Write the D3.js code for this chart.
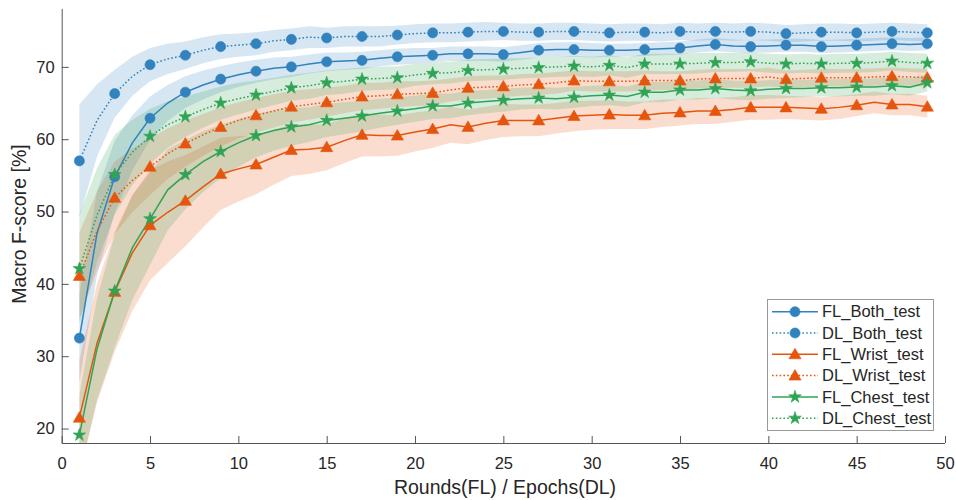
<!DOCTYPE html>
<html>
<head>
<meta charset="utf-8">
<script src="https://cdn.jsdelivr.net/npm/d3@7"></script>
<style>
  html, body { margin: 0; padding: 0; background: #fff; }
  svg { display: block; font-family: "Liberation Sans", Arial, Helvetica, sans-serif; }
</style>
</head>
<body>
<svg id="chart" width="956" height="500"></svg>
<script>
// Rounds / epochs 1..49
const rounds = d3.range(1, 50);

// Mean macro F-score per round (%)
const flBoth = [32.5,47.0,54.8,59.5,62.9,65.0,66.5,67.5,68.3,68.9,69.4,69.8,70.0,70.4,70.7,70.8,70.9,71.2,71.4,71.5,71.6,71.8,71.8,71.8,71.7,72.0,72.3,72.4,72.4,72.3,72.3,72.3,72.4,72.5,72.6,72.9,73.1,72.9,72.8,72.9,73.0,73.0,72.8,72.9,73.0,73.1,73.2,73.1,73.2];
const dlBoth = [57.0,62.6,66.3,68.7,70.3,71.1,71.6,72.3,72.8,73.0,73.2,73.6,73.8,74.1,74.0,74.2,74.2,74.2,74.4,74.6,74.7,74.7,74.8,74.9,74.9,74.8,74.8,74.9,74.9,74.8,74.7,74.8,74.8,74.7,74.9,74.8,74.9,74.8,74.9,74.8,74.6,74.7,74.8,74.8,74.7,74.8,74.9,74.8,74.7];
const flWrist = [21.5,31.8,38.9,44.3,48.1,49.9,51.5,53.4,55.2,55.9,56.5,57.5,58.5,58.6,58.9,59.8,60.6,60.5,60.5,61.0,61.4,62.0,61.7,62.2,62.6,62.6,62.6,62.9,63.2,63.3,63.4,63.3,63.3,63.6,63.7,63.9,63.9,64.1,64.4,64.4,64.4,64.3,64.2,64.4,64.7,65.1,64.8,64.8,64.5];
const dlWrist = [41.1,47.3,51.9,54.3,56.2,58.0,59.4,60.6,61.7,62.6,63.3,63.9,64.5,64.8,65.1,65.5,65.9,66.0,66.2,66.3,66.4,66.8,67.1,67.2,67.3,67.5,67.6,67.8,68.1,68.0,68.0,68.0,68.1,68.1,68.1,68.3,68.4,68.4,68.4,68.6,68.3,68.4,68.5,68.5,68.5,68.6,68.7,68.6,68.5];
const flChest = [19.1,31.0,39.0,45.0,49.0,53.0,55.1,56.9,58.3,59.5,60.5,61.2,61.7,62.0,62.6,62.9,63.2,63.6,63.9,64.2,64.6,64.6,65.0,65.2,65.4,65.6,65.7,65.6,65.8,66.0,66.1,65.9,66.5,66.5,66.8,66.8,67.0,66.8,66.7,66.9,67.0,67.0,67.1,67.1,67.2,67.2,67.4,67.2,67.8];
const dlChest = [42.1,49.5,55.1,58.2,60.4,62.0,63.1,64.1,65.0,65.6,66.1,66.6,67.1,67.4,67.8,68.0,68.3,68.4,68.5,68.9,69.1,69.2,69.5,69.6,69.7,69.8,69.9,70.0,70.1,70.0,70.2,69.9,70.4,70.4,70.4,70.5,70.6,70.6,70.7,70.5,70.4,70.5,70.4,70.5,70.5,70.6,70.8,70.6,70.5];

// Standard deviation per round (%)
const flBothSd = [6.0,5.8,5.0,3.8,3.0,2.5,2.2,2.0,1.8,1.7,1.6,1.5,1.4,1.3,1.3,1.2,1.2,1.1,1.1,1.1,1.0,1.0,1.0,1.0,1.0,1.0,1.0,1.0,1.0,1.0,0.9,0.9,0.9,0.9,0.9,0.9,0.9,0.9,0.9,0.9,0.9,0.9,0.9,0.9,0.9,0.9,0.9,0.9,0.9];
const dlBothSd = [7.8,5.0,3.3,2.7,2.3,2.1,1.9,1.8,1.7,1.6,1.6,1.5,1.5,1.5,1.4,1.4,1.4,1.4,1.3,1.3,1.3,1.3,1.3,1.3,1.2,1.2,1.2,1.2,1.2,1.2,1.2,1.2,1.2,1.2,1.2,1.2,1.2,1.2,1.2,1.2,1.2,1.2,1.2,1.2,1.2,1.2,1.2,1.2,1.2];
const flWristSd = [8.0,8.2,8.3,8.0,7.6,7.0,6.3,5.6,5.0,4.5,4.1,3.8,3.6,3.4,3.2,3.1,3.0,2.9,2.8,2.7,2.6,2.5,2.4,2.3,2.3,2.2,2.2,2.1,2.1,2.0,2.0,1.9,1.9,1.9,1.8,1.8,1.8,1.7,1.7,1.7,1.6,1.6,1.6,1.6,1.5,1.5,1.5,1.5,1.5];
const dlWristSd = [6.0,5.5,5.0,4.4,3.9,3.5,3.2,2.9,2.7,2.5,2.4,2.3,2.2,2.1,2.0,1.9,1.9,1.8,1.8,1.7,1.7,1.6,1.6,1.6,1.5,1.5,1.5,1.5,1.4,1.4,1.4,1.4,1.4,1.3,1.3,1.3,1.3,1.3,1.3,1.3,1.2,1.2,1.2,1.2,1.2,1.2,1.2,1.2,1.2];
const flChestSd = [5.5,7.0,7.8,7.2,6.4,5.6,4.8,4.2,3.7,3.3,3.0,2.8,2.6,2.4,2.3,2.2,2.1,2.0,1.9,1.8,1.8,1.7,1.7,1.6,1.6,1.5,1.5,1.5,1.5,1.4,1.4,1.4,1.4,1.4,1.3,1.3,1.3,1.3,1.3,1.3,1.3,1.2,1.2,1.2,1.2,1.2,1.2,1.2,1.2];
const dlChestSd = [7.5,6.5,5.5,4.5,3.8,3.2,2.8,2.5,2.3,2.2,2.0,1.9,1.8,1.8,1.7,1.7,1.6,1.6,1.6,1.5,1.5,1.5,1.5,1.5,1.5,1.4,1.4,1.4,1.4,1.4,1.4,1.4,1.4,1.4,1.4,1.4,1.3,1.3,1.3,1.3,1.3,1.3,1.3,1.3,1.3,1.3,1.3,1.3,1.3];

const seriesNames = ["FL_Both_test","DL_Both_test","FL_Wrist_test","DL_Wrist_test","FL_Chest_test","DL_Chest_test"];
const xTicks = [0,5,10,15,20,25,30,35,40,45,50];
const yTicks = [20,30,40,50,60,70];

const blue = "#3182bd", orange = "#e6550d", green = "#31a354";

const series = [
  { name: seriesNames[0], mean: flBoth,  sd: flBothSd,  color: blue,   dotted: false, marker: "circle" },
  { name: seriesNames[1], mean: dlBoth,  sd: dlBothSd,  color: blue,   dotted: true,  marker: "circle" },
  { name: seriesNames[2], mean: flWrist, sd: flWristSd, color: orange, dotted: false, marker: "triangle" },
  { name: seriesNames[3], mean: dlWrist, sd: dlWristSd, color: orange, dotted: true,  marker: "triangle" },
  { name: seriesNames[4], mean: flChest, sd: flChestSd, color: green,  dotted: false, marker: "star" },
  { name: seriesNames[5], mean: dlChest, sd: dlChestSd, color: green,  dotted: true,  marker: "star" }
];

const svg = d3.select("#chart");
const plotLeft = 61.7, plotRight = 945, plotTop = 9, plotBottom = 443;

const x = d3.scaleLinear().domain([0, 50]).range([plotLeft, plotRight]);
const y = d3.scaleLinear().domain([18, 78]).range([plotBottom, plotTop]);

svg.append("defs").append("clipPath").attr("id", "plotClip")
  .append("rect").attr("x", plotLeft).attr("y", plotTop)
  .attr("width", plotRight - plotLeft).attr("height", plotBottom - plotTop);

const plot = svg.append("g").attr("clip-path", "url(#plotClip)");

// Shaded +/- one standard deviation bands
const band = d3.area()
  .x(d => x(d.r))
  .y0(d => y(d.m - d.s))
  .y1(d => y(d.m + d.s));

series.forEach(s => {
  const pts = rounds.map((r, i) => ({ r, m: s.mean[i], s: s.sd[i] }));
  plot.append("path")
    .attr("d", band(pts))
    .attr("fill", s.color)
    .attr("fill-opacity", 0.2)
    .attr("stroke", "none");
});

// Mean lines
const line = d3.line().x(d => x(d.r)).y(d => y(d.m));
series.forEach(s => {
  const pts = rounds.map((r, i) => ({ r, m: s.mean[i] }));
  plot.append("path")
    .attr("d", line(pts))
    .attr("fill", "none")
    .attr("stroke", s.color)
    .attr("stroke-width", 1.5)
    .attr("stroke-dasharray", s.dotted ? "1.6,2.2" : null);
});

// Marker shapes
const symbols = {
  circle: d3.symbol().type(d3.symbolCircle).size(80),
  triangle: d3.symbol().type(d3.symbolTriangle).size(64),
  star: d3.symbol().type(d3.symbolStar).size(50)
};

// Markers on every second round
const markerGroup = svg.append("g");
series.forEach(s => {
  rounds.forEach((r, i) => {
    if (i % 2 !== 0) return;
    markerGroup.append("path")
      .attr("d", symbols[s.marker]())
      .attr("transform", `translate(${x(r)},${y(s.mean[i]) + (s.marker === "triangle" ? 1 : 0)})`)
      .attr("fill", s.color)
      .attr("stroke", s.color)
      .attr("stroke-width", 0.6);
  });
});

// Axes
const axisColor = "#555";
const textColor = "#262626";

const xAxis = svg.append("g").attr("transform", `translate(0,${plotBottom})`)
  .call(d3.axisBottom(x).tickValues(xTicks).tickSize(-7).tickPadding(14).tickFormat(d3.format("d")));
const yAxis = svg.append("g").attr("transform", `translate(${plotLeft},0)`)
  .call(d3.axisLeft(y).tickValues(yTicks).tickSize(-7).tickPadding(7).tickFormat(d3.format("d")));

[xAxis, yAxis].forEach(a => {
  a.select(".domain").attr("stroke", axisColor).attr("stroke-width", 1);
  a.selectAll(".tick line").attr("stroke", axisColor).attr("stroke-width", 1);
  a.selectAll(".tick text").attr("fill", textColor).attr("font-size", 16.5)
    .attr("font-family", "Liberation Sans, Arial, sans-serif");
});
// Plain axis lines without outer end ticks
xAxis.select(".domain").attr("d", `M${plotLeft},0.5H${plotRight}`);
yAxis.select(".domain").attr("d", `M0.5,${plotBottom}V${plotTop}`);

svg.append("text")
  .attr("x", 505)
  .attr("y", 494)
  .attr("text-anchor", "middle")
  .attr("fill", textColor)
  .attr("font-size", 19.5)
  .text("Rounds(FL) / Epochs(DL)");

svg.append("text")
  .attr("transform", `translate(26,224) rotate(-90)`)
  .attr("text-anchor", "middle")
  .attr("fill", textColor)
  .attr("font-size", 19.5)
  .text("Macro F-score [%]");

// Legend
const legend = svg.append("g");
legend.append("rect")
  .attr("x", 767.5).attr("y", 299.5).attr("width", 166).attr("height", 131)
  .attr("fill", "#fff").attr("stroke", "#999").attr("stroke-width", 1);

series.forEach((s, i) => {
  const cy = 311.7 + i * 21.3;
  legend.append("line")
    .attr("x1", 772).attr("x2", 818).attr("y1", cy).attr("y2", cy)
    .attr("stroke", s.color).attr("stroke-width", 1.5)
    .attr("stroke-dasharray", s.dotted ? "1.6,2.2" : null);
  legend.append("path")
    .attr("d", symbols[s.marker]())
    .attr("transform", `translate(795,${cy + (s.marker === "triangle" ? 1 : 0)})`)
    .attr("fill", s.color).attr("stroke", s.color).attr("stroke-width", 0.6);
  legend.append("text")
    .attr("x", 822).attr("y", cy)
    .attr("dy", "0.35em")
    .attr("fill", textColor)
    .attr("font-size", 16.5)
    .text(s.name);
});
</script>
</body>
</html>
